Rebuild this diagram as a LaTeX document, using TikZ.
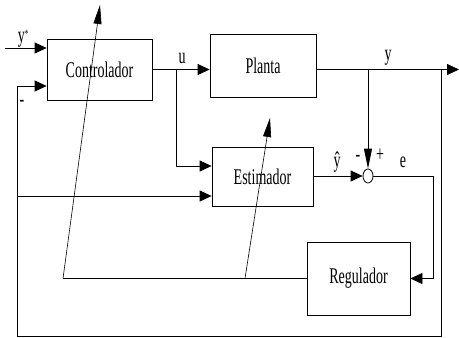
\documentclass[tikz,border=0pt]{standalone}
\usepackage{fontspec}
\setmainfont{Liberation Serif}
\usetikzlibrary{arrows.meta,positioning,calc,shapes.geometric}

\newcommand{\tallt}[1]{\scalebox{1}[1.6]{#1}}

\begin{document}
\begin{tikzpicture}[x=1pt,y=-1pt,
  blk/.style={draw,line width=0.8pt,inner sep=0pt,font=\fontsize{14}{16}\selectfont},
  lbl/.style={inner sep=0pt,font=\fontsize{14}{16}\selectfont},
  sig/.style={line width=0.8pt},
  hd/.style={-{Triangle[length=12pt,width=11pt]}},
  vhd/.style={-{Triangle[length=20pt,width=8pt]}},
  adj/.style={line width=0.6pt,-{Triangle[length=19pt,width=8pt]}}]
  \useasboundingbox (0,0) rectangle (459,338);
  % blocks
  \node[blk,minimum width=105pt,minimum height=61pt] (ctrl) at (99.5,69.5) {\tallt{Controlador}};
  \node[blk,minimum width=106pt,minimum height=63pt] (planta) at (263,65.5) {\tallt{Planta}};
  \node[blk,minimum width=101pt,minimum height=59pt] (estim) at (262.5,176.5) {\tallt{Estimador}};
  \node[blk,minimum width=103pt,minimum height=73pt] (reg) at (358.5,278.5) {\tallt{Regulador}};
  \node[draw,ellipse,line width=0.8pt,minimum width=10pt,minimum height=14pt,inner sep=0pt] (sum) at (368,176) {};
  % junctions and corners
  \coordinate (ystar) at (5,48);
  \coordinate (ju) at (176,69.5);
  \coordinate (je) at (176,166);
  \coordinate (jy) at (368,69.5);
  \coordinate (jr) at (441,69.5);
  \coordinate (out) at (459,69.5);
  \coordinate (br) at (441,336);
  \coordinate (bl) at (17,336);
  \coordinate (jl) at (17,196);
  \coordinate (jf) at (17,86);
  \coordinate (ec) at (433,176);
  \coordinate (d1) at (63,278.5);
  \coordinate (d1t) at (100,5);
  \coordinate (d2) at (245,278.5);
  \coordinate (d2t) at (270,118);
  % signals
  \draw[sig,hd] (ystar) -- (ctrl.west |- ystar);
  \draw[sig,hd] (ctrl.east) -- (ctrl.east -| planta.west);
  \draw[sig,hd] (planta.east |- ctrl.east) -- (out);
  \draw[sig,hd] (ju) -- (je) -- (estim.west |- je);
  \draw[sig,vhd] (jy) -- (sum.north);
  \draw[sig,hd] (estim.east |- sum.west) -- (sum.west);
  \draw[sig,hd] (sum.east) -- (ec) |- (reg.east);
  \draw[sig] (reg.west) -- (d1);
  \draw[sig] (jr) -- (br) -- (bl) -- (jf);
  \draw[sig,hd] (jf) -- (ctrl.west |- jf);
  \draw[sig,hd] (jl) -- (estim.west |- jl);
  % adaptation
  \draw[adj] (d1) -- (d1t);
  \draw[adj] (d2) -- (d2t);
  % labels
  \node[lbl] (lys) at (23,39) {\tallt{y\raisebox{0.5ex}{\scriptsize *}}};
  \node[lbl] (lu) at (182,58) {\tallt{u}};
  \node[lbl] (lyo) at (388,58) {\tallt{y}};
  \node[lbl] (lyh) at (337,162) {\tallt{ŷ}};
  \node[lbl] (lm) at (358,158) {\tallt{-}};
  \node[lbl] (lp) at (380,155) {\tallt{+}};
  \node[lbl] (le) at (403,162) {\tallt{e}};
  \node[lbl] (lf) at (22,103) {\tallt{-}};
\end{tikzpicture}
\end{document}
